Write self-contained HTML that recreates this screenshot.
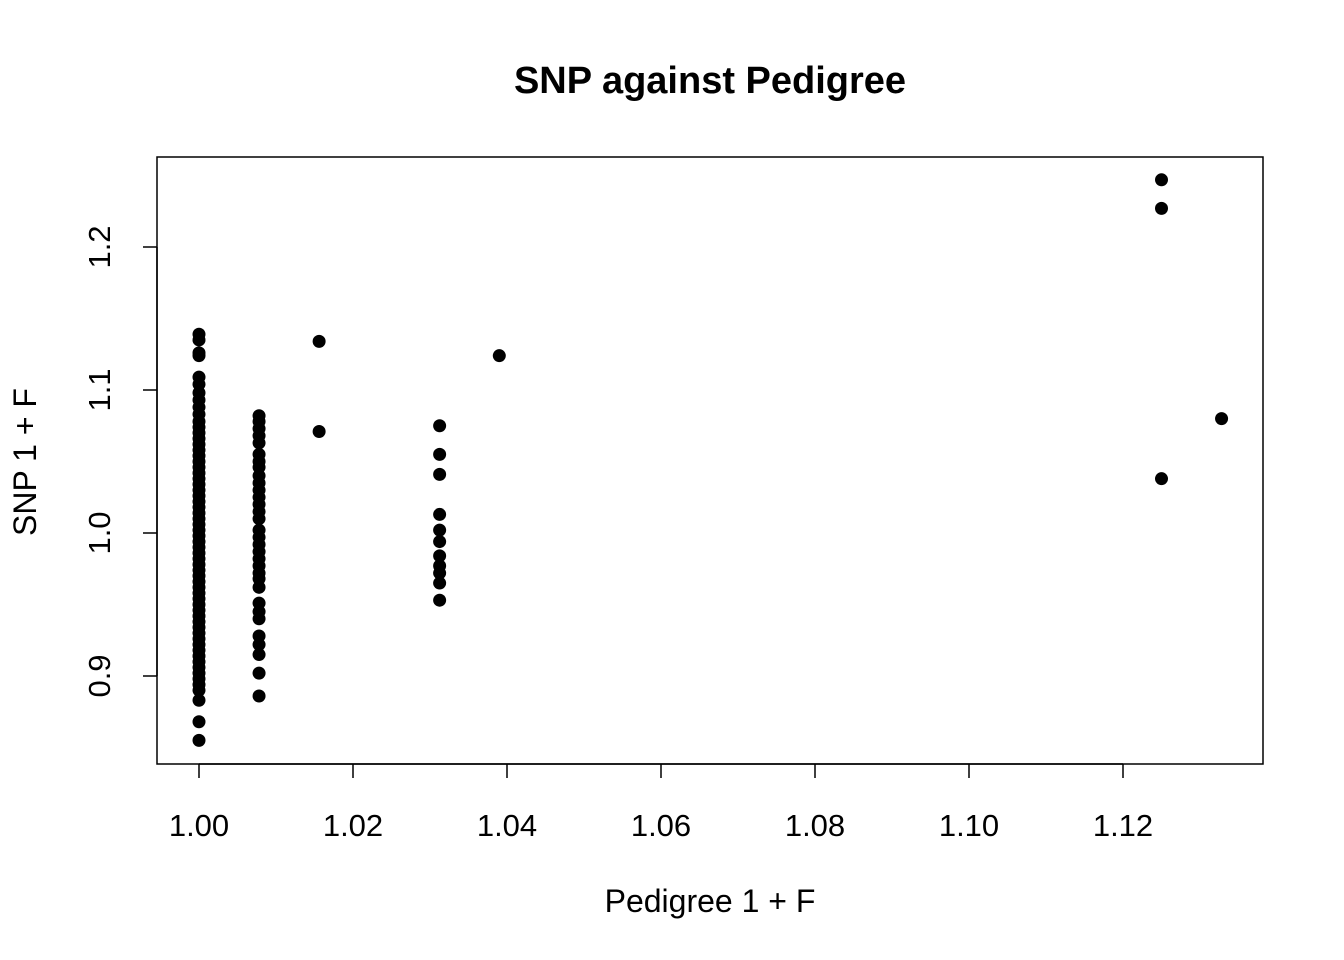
<!DOCTYPE html>
<html><head><meta charset="utf-8"><style>
body{margin:0;background:#fff}
svg{display:block;font-family:"Liberation Sans",Arial,sans-serif}
</style></head><body>
<svg id="chart" width="1344" height="960" viewBox="0 0 1344 960">
<text x="710" y="93" text-anchor="middle" font-size="38" font-weight="bold">SNP against Pedigree</text>
<rect x="157" y="157" width="1106" height="607" fill="none" stroke="#000" stroke-width="1.5"/>
<text x="710" y="912" text-anchor="middle" font-size="32">Pedigree 1 + F</text>
<text transform="translate(36,462) rotate(-90)" text-anchor="middle" font-size="32">SNP 1 + F</text>
<g id="axes"></g>
<g id="points"></g>
</svg>
<script>
const xTicks=[1.00,1.02,1.04,1.06,1.08,1.10,1.12];
const yTicks=[0.9,1.0,1.1,1.2];
const xVals=[];const yVals=[];
const col100=[1.139,1.135,1.126,1.124,1.109,1.104,1.098,1.093,1.088,1.083,1.078,1.074,1.070,1.066,1.062,1.058,1.054,1.050,1.046,1.042,1.038,1.034,1.030,1.026,1.022,1.018,1.014,1.010,1.006,1.002,0.998,0.994,0.990,0.986,0.982,0.978,0.974,0.970,0.966,0.962,0.958,0.954,0.950,0.946,0.942,0.938,0.934,0.930,0.926,0.922,0.918,0.914,0.910,0.906,0.902,0.898,0.894,0.890,0.883,0.868,0.855];
const col1008=[1.082,1.078,1.073,1.068,1.063,1.055,1.050,1.046,1.040,1.035,1.030,1.025,1.020,1.015,1.010,1.002,0.997,0.992,0.987,0.982,0.977,0.972,0.968,0.962,0.951,0.945,0.940,0.928,0.922,0.915,0.902,0.886];
const col1016=[1.134,1.071];
const col1031=[1.075,1.055,1.041,1.013,1.002,0.994,0.984,0.977,0.972,0.965,0.953];
const otherX=[1.039,1.125,1.125,1.125,1.1328];
const otherY=[1.124,1.247,1.227,1.038,1.080];
col100.forEach(v=>{xVals.push(1.0);yVals.push(v);});
col1008.forEach(v=>{xVals.push(1.0078);yVals.push(v);});
col1016.forEach(v=>{xVals.push(1.0156);yVals.push(v);});
col1031.forEach(v=>{xVals.push(1.03125);yVals.push(v);});
otherX.forEach((v,i)=>{xVals.push(v);yVals.push(otherY[i]);});

const sx=v=>199+(v-1.0)*7700;
const sy=v=>533-(v-1.0)*1430;
const NS="http://www.w3.org/2000/svg";
const axes=document.getElementById('axes');
function mk(tag,attrs,parent){const e=document.createElementNS(NS,tag);for(const k in attrs)e.setAttribute(k,attrs[k]);parent.appendChild(e);return e;}
const xl=mk('line',{x1:sx(xTicks[0]),x2:sx(xTicks[xTicks.length-1]),y1:764,y2:764,stroke:'#000','stroke-width':1.5},axes);


xTicks.forEach(t=>{
  const l=mk('line',{x1:sx(t),x2:sx(t),y1:764,y2:778,stroke:'#000','stroke-width':1.5},axes);
  
  
  const tx=mk('text',{x:sx(t),y:836,'text-anchor':'middle','font-size':31},axes);
  tx.textContent=t.toFixed(2);
  
  
});
const yl=mk('line',{x1:157,x2:157,y1:sy(yTicks[0]),y2:sy(yTicks[yTicks.length-1]),stroke:'#000','stroke-width':1.5},axes);


yTicks.forEach(t=>{
  const l=mk('line',{x1:143,x2:157,y1:sy(t),y2:sy(t),stroke:'#000','stroke-width':1.5},axes);
  
  
  const tx=mk('text',{transform:`translate(110,${sy(t)}) rotate(-90)`,'text-anchor':'middle','font-size':31},axes);
  tx.textContent=t.toFixed(1);
  
  
});
const pts=document.getElementById('points');
xVals.forEach((x,i)=>{
  const c=mk('circle',{cx:sx(x),cy:sy(yVals[i]),r:6.5,fill:'#000'},pts);
  
  
});
</script>
</body></html>
